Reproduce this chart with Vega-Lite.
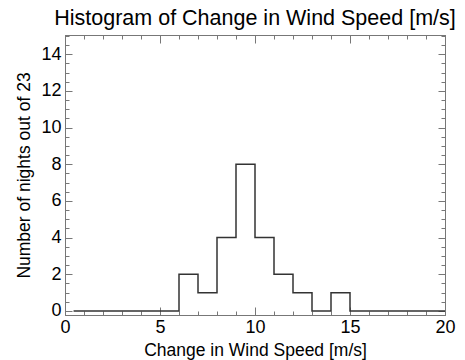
{
  "$schema": "https://vega.github.io/schema/vega-lite/v6.json",
  "width": 380,
  "height": 280,
  "autosize": "none",
  "padding": {"left": 65, "top": 35, "right": 20, "bottom": 45},
  "title": {"text": "Histogram of Change in Wind Speed [m/s]", "font": "Liberation Sans", "fontSize": 21.5, "fontWeight": "normal", "color": "#000", "offset": -3, "anchor": "middle"},
  "config": {"view": {"stroke": "#777", "strokeWidth": 1}, "background": "white"},
  "data": {"values": [
    {"x": 0.45, "n": 0},
    {"x": 6, "n": 2},
    {"x": 7, "n": 1},
    {"x": 8, "n": 4},
    {"x": 9, "n": 8},
    {"x": 10, "n": 4},
    {"x": 11, "n": 2},
    {"x": 12, "n": 1},
    {"x": 13, "n": 0},
    {"x": 14, "n": 1},
    {"x": 15, "n": 0},
    {"x": 20, "n": 0}
  ]},
  "layer": [
    {
      "mark": {"type": "line", "interpolate": "step-after", "color": "#333", "strokeWidth": 1.5},
      "encoding": {
        "x": {"field": "x", "type": "quantitative", "scale": {"domain": [0, 20], "nice": false, "zero": false},
          "axis": {"orient": "bottom", "values": [0,1,2,3,4,5,6,7,8,9,10,11,12,13,14,15,16,17,18,19,20],
            "labelExpr": "datum.value % 5 === 0 ? format(datum.value, 'd') : ''",
            "tickSize": {"condition": {"test": "datum.value % 5 === 0", "value": -8}, "value": -4},
            "grid": false, "domainColor": "#777", "tickColor": "#777", "labelFont": "Liberation Sans", "labelFontSize": 18, "labelColor": "#000",
            "labelPadding": 11, "labelOverlap": false, "labelFlush": false,
            "title": "Change in Wind Speed [m/s]", "titleFont": "Liberation Sans", "titleFontSize": 17.5, "titleFontWeight": "normal", "titleColor": "#000", "titlePadding": 1}},
        "y": {"field": "n", "type": "quantitative", "scale": {"domain": [-0.22, 15.05], "nice": false, "zero": false},
          "axis": {"orient": "left", "values": [0,0.5,1,1.5,2,2.5,3,3.5,4,4.5,5,5.5,6,6.5,7,7.5,8,8.5,9,9.5,10,10.5,11,11.5,12,12.5,13,13.5,14,14.5,15],
            "labelExpr": "datum.value % 2 === 0 ? format(datum.value, 'd') : ''",
            "tickSize": {"condition": {"test": "datum.value % 2 === 0", "value": -7}, "value": -4},
            "grid": false, "domainColor": "#777", "tickColor": "#777", "labelFont": "Liberation Sans", "labelFontSize": 18, "labelColor": "#000",
            "labelPadding": 11, "labelOverlap": false, "labelFlush": false,
            "title": "Number of nights out of 23", "titleFont": "Liberation Sans", "titleFontSize": 17.5, "titleFontWeight": "normal", "titleColor": "#000", "titlePadding": 7}}
      }
    },
    {
      "mark": {"type": "line", "interpolate": "step-after", "opacity": 0},
      "encoding": {
        "x": {"field": "x", "type": "quantitative",
          "axis": {"orient": "top", "values": [0,1,2,3,4,5,6,7,8,9,10,11,12,13,14,15,16,17,18,19,20],
            "labels": false, "title": null,
            "tickSize": {"condition": {"test": "datum.value % 5 === 0", "value": -8}, "value": -4},
            "grid": false, "domainColor": "#777", "tickColor": "#777"}},
        "y": {"field": "n", "type": "quantitative",
          "axis": {"orient": "right", "values": [0,0.5,1,1.5,2,2.5,3,3.5,4,4.5,5,5.5,6,6.5,7,7.5,8,8.5,9,9.5,10,10.5,11,11.5,12,12.5,13,13.5,14,14.5,15],
            "labels": false, "title": null,
            "tickSize": {"condition": {"test": "datum.value % 2 === 0", "value": -7}, "value": -4},
            "grid": false, "domainColor": "#777", "tickColor": "#777"}}
      }
    }
  ],
  "resolve": {"axis": {"x": "independent", "y": "independent"}}
}
